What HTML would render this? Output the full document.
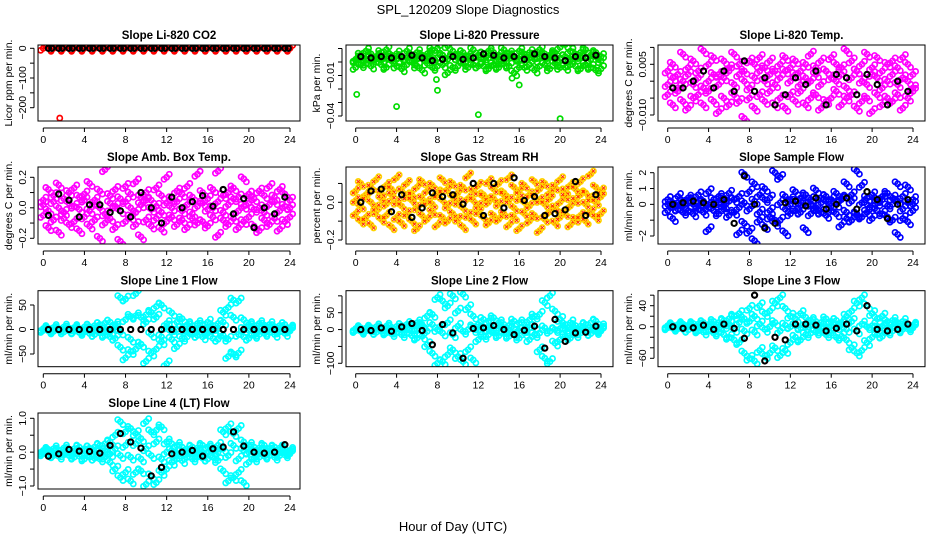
<!DOCTYPE html>
<html><head><meta charset="utf-8">
<style>
html,body{margin:0;padding:0;background:#fff;}
svg{display:block;font-family:"Liberation Sans",sans-serif;}
</style></head>
<body>
<svg id="chart" width="936" height="540" viewBox="0 0 936 540">
<text x="468" y="14" text-anchor="middle" font-size="13">SPL_120209  Slope Diagnostics</text>
<text x="453" y="531" text-anchor="middle" font-size="13">Hour of Day (UTC)</text>
</svg>
<script>
const hours = [0,0.5,1,1.5,2,2.5,3,3.5,4,4.5,5,5.5,6,6.5,7,7.5,8,8.5,9,9.5,10,10.5,11,11.5,12,12.5,13,13.5,14,14.5,15,15.5,16,16.5,17,17.5,18,18.5,19,19.5,20,20.5,21,21.5,22,22.5,23,23.5,24];
const blackHours = [0.5,1.5,2.5,3.5,4.5,5.5,6.5,7.5,8.5,9.5,10.5,11.5,12.5,13.5,14.5,15.5,16.5,17.5,18.5,19.5,20.5,21.5,22.5,23.5];
const xTicks = [0,4,8,12,16,20,24];

const co2A = hours.map(()=>0);
const co2K = [0,0,0,0,0,0,0,0,0,0,0,0,0,0,0,0,0,0,0,0,0,0,0,0];
const co2OutX = [1.6];
const co2OutY = [-235];
const presA = [0.002,0.005,0.008,0.006,0.004,0.007,0.009,0.005,0.006,0.003,0.008,0.004,0.007,0.005,0.006,0.009,0.010,0.005,0.012,0.008,0.006,0.007,0.004,0.009,0.005,0.006,0.008,0.007,0.005,0.009,0.006,0.004,0.008,0.006,0.007,0.005,0.009,0.006,0.004,0.007,0.011,0.013,0.008,0.006,0.007,0.009,0.005,0.007,0.004];
const presB = [-0.004,-0.002,-0.001,-0.003,0.000,-0.002,-0.004,0.001,-0.003,-0.005,-0.002,0.000,-0.003,-0.006,-0.001,-0.004,-0.003,-0.002,-0.008,-0.004,-0.003,-0.001,-0.004,-0.002,-0.003,-0.003,-0.005,-0.002,-0.004,-0.001,-0.003,-0.008,-0.004,-0.004,-0.002,-0.006,-0.003,-0.002,-0.005,-0.001,-0.004,-0.004,-0.002,-0.003,-0.005,-0.002,-0.004,-0.006,-0.005];
const presC = [0.001,0.003,0.002,0.004,0.003,0.002,0.004,0.003,0.002,0.004,0.003,0.005,0.002,0.003,0.004,0.002,0.003,0.005,0.002,0.004,0.003,0.002,0.004,0.003,0.005,0.002,0.003,0.004,0.002,0.003,0.004,0.003,0.002,0.004,0.003,0.002,0.004,0.003,0.005,0.002,0.003,0.004,0.002,0.003,0.004,0.003,0.002,0.004,0.001];
const presK = [0.004,0.003,0.004,0.003,0.004,0.005,0.003,0.001,0.002,0.004,0.002,0.003,0.006,0.005,0.003,0.004,0.002,0.006,0.004,0.003,0.001,0.004,0.003,0.005];
const presOutX = [0.1,4,7.9,8,12,15.3,16,20];
const presOutY = [-0.024,-0.033,-0.013,-0.021,-0.039,-0.012,-0.017,-0.042];
const tempA = [0.003,0.005,0.002,0.008,0.004,0.006,0.003,0.009,0.005,0.007,0.002,0.006,0.004,0.008,0.005,0.003,0.006,0.005,0.007,0.004,0.006,0.003,0.005,0.007,0.004,0.006,0.003,0.005,0.008,0.004,0.006,0.003,0.007,0.005,0.004,0.009,0.006,0.003,0.005,0.008,0.004,0.007,0.003,0.005,0.006,0.004,0.007,0.005,0.002];
const tempB = [-0.004,-0.007,-0.003,-0.006,-0.008,-0.005,-0.004,-0.007,-0.003,-0.006,-0.009,-0.005,-0.007,-0.004,-0.006,-0.011,-0.005,-0.008,-0.004,-0.006,-0.003,-0.007,-0.005,-0.008,-0.004,-0.006,-0.003,-0.007,-0.005,-0.004,-0.008,-0.006,-0.005,-0.003,-0.007,-0.005,-0.004,-0.008,-0.006,-0.005,-0.009,-0.004,-0.007,-0.005,-0.006,-0.004,-0.008,-0.005,-0.003];
const tempC = [-0.001,0.001,-0.002,0.000,0.002,-0.001,0.001,-0.002,0.000,0.002,-0.001,0.001,0.003,-0.001,0.002,0.000,-0.002,0.001,0.003,0.000,0.002,-0.001,0.001,0.003,0.000,0.002,-0.001,0.001,0.000,0.002,-0.001,0.003,0.001,0.000,0.002,-0.002,0.001,0.003,0.000,-0.001,0.002,0.001,-0.002,0.000,0.002,-0.001,0.001,0.000,-0.002];
const tempK = [-0.002,-0.002,0.000,0.003,-0.002,0.003,-0.003,0.006,-0.003,0.001,-0.007,-0.004,0.001,-0.001,0.003,-0.007,0.002,0.001,-0.004,0.002,-0.001,-0.007,0.000,-0.003];
const ambA = [0.05,0.12,0.08,0.15,0.06,0.10,0.13,0.07,0.09,0.16,0.05,0.11,0.25,0.08,0.12,0.06,0.14,0.09,0.17,0.07,0.10,0.05,0.13,0.08,0.20,0.06,0.11,0.09,0.14,0.07,0.22,0.10,0.06,0.12,0.24,0.08,0.10,0.13,0.07,0.19,0.09,0.06,0.11,0.08,0.14,0.07,0.12,0.09,0.05];
const ambB = [-0.05,-0.13,-0.08,-0.16,-0.07,-0.11,-0.09,-0.15,-0.06,-0.12,-0.08,-0.20,-0.10,-0.07,-0.13,-0.22,-0.09,-0.06,-0.11,-0.19,-0.08,-0.12,-0.07,-0.14,-0.09,-0.06,-0.11,-0.08,-0.13,-0.07,-0.10,-0.09,-0.12,-0.06,-0.18,-0.08,-0.11,-0.07,-0.13,-0.09,-0.06,-0.12,-0.15,-0.08,-0.11,-0.07,-0.14,-0.09,-0.06];
const ambC = [0.02,-0.02,0.04,0.00,-0.03,0.03,0.01,-0.01,0.05,-0.02,0.02,0.00,-0.04,0.03,0.01,-0.02,0.04,0.00,-0.03,0.02,0.05,-0.01,0.01,-0.03,0.03,0.00,0.04,-0.02,0.02,-0.04,0.01,0.03,-0.01,0.00,0.04,-0.03,0.02,0.06,-0.02,0.01,0.03,-0.01,0.00,-0.03,0.02,0.04,-0.02,0.01,0.00];
const ambK = [-0.05,0.09,0.05,-0.06,0.02,0.02,-0.03,-0.02,-0.06,0.10,0.00,-0.10,0.07,0.00,0.04,0.08,0.01,0.12,-0.04,0.06,-0.13,0.00,-0.04,0.07];
const rhA = [0.06,0.10,0.04,0.08,0.12,0.05,0.09,0.07,0.13,0.06,0.10,0.04,0.08,0.11,0.06,0.09,0.05,0.12,0.07,0.10,0.05,0.08,0.14,0.06,0.09,0.04,0.11,0.07,0.10,0.05,0.13,0.08,0.06,0.09,0.04,0.11,0.07,0.10,0.05,0.08,0.12,0.06,0.09,0.07,0.11,0.05,0.15,0.08,0.06];
const rhB = [-0.06,-0.10,-0.08,-0.12,-0.05,-0.09,-0.07,-0.13,-0.08,-0.11,-0.06,-0.10,-0.14,-0.07,-0.09,-0.05,-0.12,-0.08,-0.10,-0.06,-0.09,-0.13,-0.07,-0.10,-0.05,-0.08,-0.11,-0.07,-0.09,-0.06,-0.12,-0.08,-0.14,-0.06,-0.10,-0.07,-0.15,-0.09,-0.05,-0.11,-0.08,-0.06,-0.12,-0.09,-0.07,-0.10,-0.05,-0.08,-0.06];
const rhC = [0.01,-0.02,0.03,0.00,-0.03,0.02,-0.01,0.04,0.00,-0.02,0.03,0.01,-0.03,0.02,0.00,-0.01,0.04,0.01,-0.02,0.03,0.00,-0.03,0.02,0.01,-0.02,0.03,0.00,0.02,-0.01,0.04,0.01,-0.03,0.02,0.00,-0.02,0.03,0.01,-0.01,0.02,-0.03,0.00,0.03,-0.02,0.01,0.04,-0.01,0.02,0.00,0.03];
const rhK = [0.00,0.06,0.07,-0.05,0.04,-0.08,-0.03,0.05,0.03,0.04,-0.01,0.10,-0.07,0.10,-0.03,0.13,0.01,0.03,-0.07,-0.06,-0.04,0.11,-0.07,0.04];
const smpA = [0.3,0.1,0.5,0.2,0.4,0.3,0.6,0.2,0.8,0.3,0.5,0.4,0.7,0.3,0.5,1.9,0.8,1.3,0.6,1.0,0.4,2.0,1.7,0.5,0.3,0.8,0.4,0.6,0.3,0.9,0.4,0.5,0.3,0.7,0.4,1.3,0.6,2.1,1.2,0.4,0.6,0.3,0.5,0.7,0.4,1.3,0.5,1.1,0.3];
const smpB = [-0.4,-0.9,-0.3,-0.5,-0.4,-0.6,-0.3,-0.5,-1.6,-0.4,-0.6,-0.3,-0.7,-0.5,-1.8,-1.2,-1.7,-2.3,-1.0,-1.4,-0.8,-1.2,-1.0,-1.8,-0.6,-0.4,-0.5,-1.6,-0.6,-0.4,-0.5,-0.7,-0.4,-0.6,-1.3,-0.9,-1.0,-0.6,-0.8,-0.5,-0.9,-0.4,-0.6,-0.8,-1.0,-1.9,-0.9,-1.1,-0.4];
const smpC = [0.0,-0.2,0.1,-0.1,0.2,0.0,-0.1,0.1,-0.2,0.0,0.1,-0.1,0.2,0.3,-0.2,0.1,-0.3,0.2,-0.5,0.3,-0.4,-1.0,0.1,-0.3,0.0,0.2,-0.1,0.1,0.0,-0.2,0.1,0.2,-0.1,0.0,0.3,-0.5,0.2,-0.7,0.1,0.0,-0.2,0.1,0.3,-0.1,0.0,0.2,-0.3,0.1,0.0];
const smpK = [0.0,0.1,0.2,0.1,0.0,0.3,-1.2,1.8,0.0,-1.5,-1.2,0.1,0.2,-0.1,0.4,-0.3,0.0,0.4,-0.3,0.8,0.3,-0.9,0.0,0.3];
const l1A = [2,3,4,2,5,3,4,2,5,6,8,10,13,15,10,65,62,27,73,25,30,35,47,50,12,34,15,22,10,8,12,9,15,8,12,35,45,60,58,20,10,8,12,9,10,6,8,10,3];
const l1B = [-2,-3,-4,-2,-5,-3,-4,-6,-5,-8,-10,-7,-12,-15,-18,-36,-58,-45,-40,-30,-65,-48,-40,-25,-70,-20,-35,-18,-15,-10,-12,-15,-8,-18,-20,-12,-55,-50,-48,-15,-18,-12,-10,-8,-6,-10,-5,-8,-3];
const l1C = [0,1,-1,2,0,-2,1,0,-1,2,-3,3,0,-4,5,-5,20,-20,28,-30,15,-10,25,-15,5,-5,0,3,-3,0,2,-2,0,-3,2,15,-20,25,-10,0,-2,3,-4,2,-1,0,2,-1,0];
const l1K = [0,0,0,0,0,0,0,0,0,0,0,0,0,0,0,0,0,0,0,0,0,0,0,0];
const l2A = [3,5,4,6,8,5,10,7,9,12,15,10,20,15,40,45,95,85,70,100,55,105,65,40,15,30,25,35,20,15,12,25,20,15,28,40,45,80,100,55,30,15,20,12,10,15,20,25,8];
const l2B = [-3,-5,-4,-6,-8,-5,-10,-12,-8,-15,-10,-18,-25,-20,-45,-70,-100,-95,-75,-60,-80,-95,-60,-90,-30,-20,-15,-10,-18,-12,-20,-15,-25,-10,-30,-15,-60,-85,-95,-40,-30,-20,-25,-15,-10,-8,-12,-6,-4];
const l2C = [0,1,-1,2,0,-2,3,-1,2,0,5,-3,2,10,-5,15,0,-10,20,-15,10,-5,0,8,-3,5,0,-2,3,1,-1,2,-4,0,5,10,-10,5,-5,0,3,-2,1,-1,0,2,-1,0,1];
const l2K = [0,-3,5,-5,8,18,-3,-45,15,-10,-85,3,5,12,0,-15,-2,10,-55,30,-35,-10,-8,10];
const l3A = [2,3,4,5,3,6,5,8,4,10,8,12,15,20,25,15,35,20,40,25,30,45,55,35,20,15,25,18,12,10,8,15,10,12,8,20,30,45,55,40,25,15,20,10,12,8,10,5,3];
const l3B = [-2,-3,-4,-5,-6,-4,-8,-10,-6,-12,-10,-15,-20,-25,-30,-50,-60,-65,-45,-55,-50,-40,-55,-45,-30,-20,-25,-15,-12,-10,-8,-15,-12,-20,-18,-25,-40,-50,-45,-30,-20,-15,-18,-10,-8,-6,-5,-4,-2];
const l3C = [0,1,-1,2,0,-2,1,-1,3,0,-3,2,5,-5,8,-8,10,-10,5,-5,0,8,-8,3,0,2,-2,0,3,-1,0,-3,2,0,4,-5,10,-8,5,0,2,-2,1,-1,0,2,-1,0,1];
const l3K = [0,-3,-2,3,-5,5,-3,-22,60,-65,-20,-25,5,5,3,-8,-3,5,-8,40,-5,-8,-5,5];
const l4A = [0.05,0.08,0.1,0.06,0.12,0.08,0.1,0.15,0.1,0.12,0.15,0.2,0.25,0.3,0.5,0.9,0.6,0.7,0.55,0.4,0.9,0.6,0.65,0.75,0.3,0.25,0.2,0.15,0.1,0.15,0.12,0.2,0.15,0.12,0.2,0.6,0.75,0.55,0.7,0.3,0.2,0.15,0.12,0.2,0.1,0.15,0.12,0.1,0.05];
const l4B = [-0.05,-0.08,-0.1,-0.12,-0.08,-0.1,-0.15,-0.12,-0.2,-0.15,-0.18,-0.2,-0.15,-0.3,-0.5,-0.75,-0.6,-0.85,-0.6,-0.55,-0.95,-0.7,-0.9,-0.6,-0.5,-0.3,-0.2,-0.25,-0.15,-0.2,-0.15,-0.18,-0.2,-0.15,-0.25,-0.55,-0.85,-0.75,-0.6,-0.9,-0.3,-0.2,-0.15,-0.12,-0.1,-0.15,-0.1,-0.08,-0.05];
const l4C = [0,0.03,-0.02,0.04,0,-0.03,0.02,0,-0.04,0.03,0,-0.02,0.05,-0.05,0.1,-0.1,0.2,-0.15,0.25,-0.2,0.1,-0.1,0.3,-0.2,0,0.05,-0.03,0.02,0,-0.04,0.03,0,-0.02,0.04,0,0.1,-0.1,0.2,-0.2,0.05,0,-0.03,0.02,0,0.03,-0.02,0,0.02,0];
const l4K = [-0.12,-0.05,0.08,0.03,0.02,-0.03,0.2,0.55,0.3,0.12,-0.7,-0.45,-0.05,0.0,0.05,-0.12,0.1,0.15,0.6,0.18,0.0,-0.03,0.0,0.22];

const NS = "http://www.w3.org/2000/svg";
const svg = document.getElementById('chart');
function mk(tag, attrs, parent){ const e=document.createElementNS(NS,tag); for(const k in attrs) e.setAttribute(k,attrs[k]); (parent||svg).appendChild(e); return e; }

const cols = [{l:38,r:300,x0:43.3,x24:290},{l:346,r:613,x0:355.7,x24:601},{l:658,r:925,x0:667.7,x24:913}];
const rows = [{t:45,b:121},{t:167,b:244},{t:290.7,b:366.7},{t:413,b:489}];

const panels = [
 {name:'co2',title:'Slope Li-820 CO2',ylab:'Licor ppm per min.',c:0,r:0,v1:0,p1:48.3,v2:-200,p2:107.7,ticks:[0,-50,-100,-150,-200],labels:[[0,'0'],[-100,'−100'],[-200,'−200']],color:'#ff0000',series:[co2A],k:co2K,ox:co2OutX,oy:co2OutY},
 {name:'pressure',title:'Slope Li-820 Pressure',ylab:'kPa per min.',c:1,r:0,v1:0,p1:62,v2:-0.04,p2:116,ticks:[0.01,0,-0.01,-0.02,-0.03,-0.04],labels:[[-0.01,'−0.01'],[-0.04,'−0.04']],color:'#00dd00',series:[presA,presB,presC],k:presK,ox:presOutX,oy:presOutY},
 {name:'temp',title:'Slope Li-820 Temp.',ylab:'degrees C per min.',c:2,r:0,v1:0.005,p1:64.3,v2:-0.010,p2:115,ticks:[0.01,0.005,0,-0.005,-0.01],labels:[[0.005,'0.005'],[-0.01,'−0.010']],color:'#ff00ff',series:[tempA,tempB,tempC],k:tempK},
 {name:'amb-box-temp',title:'Slope Amb. Box Temp.',ylab:'degrees C per min.',c:0,r:1,v1:0.2,p1:177.3,v2:-0.2,p2:238.3,ticks:[0.2,0.1,0,-0.1,-0.2],labels:[[0.2,'0.2'],[0,'0.0'],[-0.2,'−0.2']],color:'#ff00ff',series:[ambA,ambB,ambC],k:ambK},
 {name:'gas-stream-rh',title:'Slope Gas Stream RH',ylab:'percent per min.',c:1,r:1,v1:0,p1:202.3,v2:-0.2,p2:240,ticks:[0.1,0,-0.1,-0.2],labels:[[0,'0.0'],[-0.2,'−0.2']],color:'#ffd400',cross:'#ff2a00',series:[rhA,rhB,rhC],k:rhK},
 {name:'sample-flow',title:'Slope Sample Flow',ylab:'ml/min per min.',c:2,r:1,v1:2,p1:172.7,v2:-2,p2:236,ticks:[2,1,0,-1,-2],labels:[[2,'2'],[1,'1'],[0,'0'],[-2,'−2']],color:'#0000ff',series:[smpA,smpB,smpC],k:smpK},
 {name:'line1-flow',title:'Slope Line 1 Flow',ylab:'ml/min per min.',c:0,r:2,v1:50,p1:305,v2:-50,p2:354,ticks:[50,0,-50],labels:[[50,'50'],[0,'0'],[-50,'−50']],color:'#00ffff',series:[l1A,l1B,l1C],k:l1K},
 {name:'line2-flow',title:'Slope Line 2 Flow',ylab:'ml/min per min.',c:1,r:2,v1:50,p1:312.7,v2:-100,p2:363.3,ticks:[100,50,0,-50,-100],labels:[[50,'50'],[0,'0'],[-100,'−100']],color:'#00ffff',series:[l2A,l2B,l2C],k:l2K},
 {name:'line3-flow',title:'Slope Line 3 Flow',ylab:'ml/min per min.',c:2,r:2,v1:40,p1:305.7,v2:-60,p2:358.3,ticks:[60,40,20,0,-20,-40,-60],labels:[[40,'40'],[0,'0'],[-60,'−60']],color:'#00ffff',series:[l3A,l3B,l3C],k:l3K},
 {name:'line4-flow',title:'Slope Line 4 (LT) Flow',ylab:'ml/min per min.',c:0,r:3,v1:1,p1:418.3,v2:-1,p2:486,ticks:[1,0.5,0,-0.5,-1],labels:[[1,'1.0'],[0,'0.0'],[-1,'−1.0']],color:'#00ffff',series:[l4A,l4B,l4C],k:l4K}
];

panels.forEach(p=>{
  const C=cols[p.c], R=rows[p.r];
  const g = mk('g',{});
  
  
  const xs = h => C.x0 + (C.x24-C.x0)*h/24;
  const ys = v => p.p1 + (v-p.v1)*(p.p2-p.p1)/(p.v2-p.v1);
  const cx = (C.l+C.r)/2;
  const t = mk('text',{x:cx,y:R.t-6,'text-anchor':'middle','font-size':'11.5','font-weight':'bold'},g);
  t.textContent = p.title;
  
  
  const yl = mk('text',{x:0,y:0,'text-anchor':'middle','font-size':'10.5',transform:`translate(${C.l-26},${(R.t+R.b)/2}) rotate(-90)`},g);
  yl.textContent = p.ylab;
  
  
  const clipId='clip-'+p.name;
  const cp = mk('clipPath',{id:clipId},g);
  mk('rect',{x:C.l,y:R.t,width:C.r-C.l,height:R.b-R.t},cp);
  const pts = mk('g',{'clip-path':`url(#${clipId})`},g);
  
  
  const drawPt=(x,y,col,cross,sw)=>{
    const c = mk('circle',{cx:x,cy:y,r:2.6,fill:'none',stroke:col,'stroke-width':sw||1.7},pts);
    
    
    if(cross){ mk('path',{d:`M${x-1.5} ${y-1.5}L${x+1.5} ${y+1.5}M${x-1.5} ${y+1.5}L${x+1.5} ${y-1.5}`,stroke:cross,'stroke-width':1},pts); }
  };
  p.series.forEach(s=>s.forEach((v,i)=>{
    drawPt(xs(hours[i]),ys(v),p.color,p.cross);
    drawPt(xs(hours[i])+2.6,ys(v)+((i%2)?3:-3),p.color,p.cross);
    drawPt(xs(hours[i])-2.6,ys(v)+((i%2)?-2:2),p.color,p.cross);
  }));
  if(p.ox) p.ox.forEach((h,i)=>drawPt(xs(h),ys(p.oy[i]),p.color,p.cross));
  p.k.forEach((v,i)=>drawPt(xs(blackHours[i]),ys(v),'#000',null,2.1));
  if(p.name==='co2') blackHours.forEach(h=>drawPt(xs(h+0.33),ys(0),'#000',null,2.1));
  const box = mk('rect',{x:C.l,y:R.t,width:C.r-C.l,height:R.b-R.t,fill:'none',stroke:'#000','stroke-width':1},g);
  
  
  const ax = R.b+7;
  mk('line',{x1:xs(0),x2:xs(24),y1:ax,y2:ax,stroke:'#000'},g);
  xTicks.forEach(h=>{
    mk('line',{x1:xs(h),x2:xs(h),y1:ax,y2:ax+4,stroke:'#000'},g);
    const tl = mk('text',{x:xs(h),y:ax+15,'text-anchor':'middle','font-size':'10.5'},g);
    tl.textContent=String(h);
    
    
  });
  const ay = C.l-4;
  const tp = p.ticks.map(ys);
  mk('line',{x1:ay,x2:ay,y1:Math.min(...tp),y2:Math.max(...tp),stroke:'#000'},g);
  tp.forEach(y=>mk('line',{x1:ay-4,x2:ay,y1:y,y2:y,stroke:'#000'},g));
  p.labels.forEach(([v,s])=>{
    const tl = mk('text',{x:0,y:0,'text-anchor':'middle','font-size':'10.5',transform:`translate(${ay-8},${ys(v)}) rotate(-90)`},g);
    tl.textContent=s;
    
    
  });
});
</script>
</body></html>
